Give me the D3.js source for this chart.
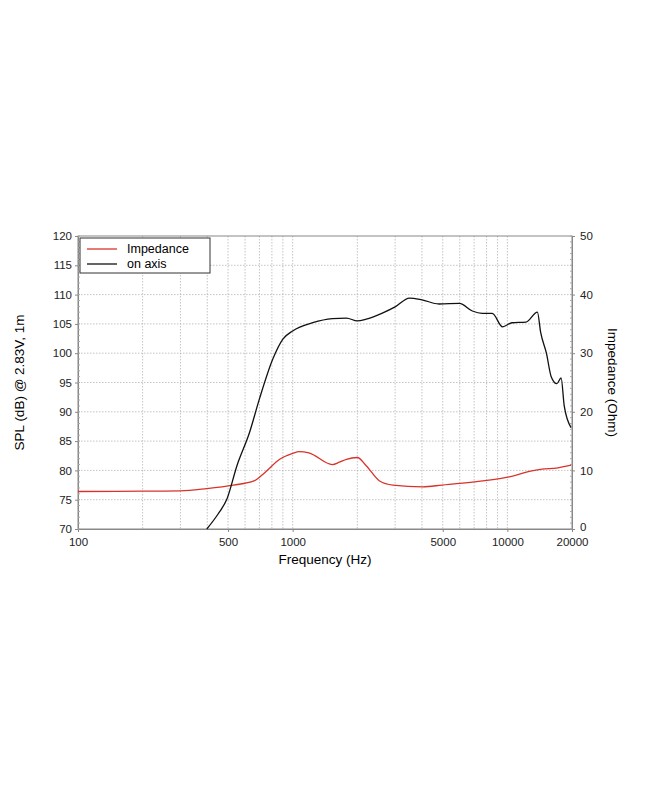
<!DOCTYPE html>
<html><head><meta charset="utf-8">
<script src="https://cdn.jsdelivr.net/npm/d3@7"></script>
<style>body{margin:0;background:#fff}text{font-family:"Liberation Sans",Arial,sans-serif}</style>
</head><body><svg id="c" width="650" height="794"></svg>
<script>
const splFreq=[398,450,494,550,630,700,808,900,1000,1240,1530,1780,2000,2200,2600,3000,3500,4000,4800,5980,6870,7630,8500,9500,10500,12200,13800,14300,15200,16000,17000,17800,18400,19800];
const splDb=[70,72.6,75.1,80.8,86.5,92.2,99,102.4,103.8,105.2,105.9,106,105.5,105.8,106.8,107.9,109.4,109.1,108.4,108.5,107.2,106.8,106.8,104.5,105.2,105.3,107,103.5,100,96,94.8,95.8,91,87.3];
const impFreq=[100,200,300,398,530,660,745,870,1000,1070,1190,1530,1650,1780,2000,2200,2540,2930,4030,4970,6870,9900,13000,14500,16900,19800];
const impOhm=[6.4,6.45,6.5,6.9,7.5,8.2,9.7,11.9,12.9,13.2,13.0,11.0,11.4,11.9,12.2,10.8,8.2,7.5,7.2,7.5,8.0,8.8,9.9,10.2,10.4,10.9];
const xTickLabels=[100,500,1000,5000,10000,20000];
const yTicks=[70,75,80,85,90,95,100,105,110,115,120];
const y2Ticks=[0,10,20,30,40,50];

const svg=d3.select("#c");
const L=78,R=572,T=236,B=529;
const x=d3.scaleLog().domain([100,20000]).range([L,R]);
const y=d3.scaleLinear().domain([70,120]).range([B,T]);
const y2=d3.scaleLinear().domain([0,50]).range([B,T]);
const grid=[];
for(let d=100;d<=10000;d*=10)for(let m=1;m<10;m++){const f=d*m;if(f>100&&f<20000)grid.push(f);}
svg.append("g").selectAll("line").data(grid).join("line")
 .attr("x1",d=>x(d)).attr("x2",d=>x(d)).attr("y1",T).attr("y2",B)
 .attr("stroke","#aaa").attr("stroke-width",0.7).attr("stroke-dasharray","1.5,1.5");
svg.append("g").selectAll("line").data(yTicks.slice(1,-1)).join("line")
 .attr("x1",L).attr("x2",R).attr("y1",d=>y(d)).attr("y2",d=>y(d))
 .attr("stroke","#aaa").attr("stroke-width",0.7).attr("stroke-dasharray","1.5,1.5");
svg.append("rect").attr("x",L).attr("y",T).attr("width",R-L).attr("height",B-T).attr("fill","none").attr("stroke","#888").attr("stroke-width",1);
const fs="11.5px";
const ax=svg.append("g").attr("transform",`translate(0,${B})`).call(d3.axisBottom(x).tickValues(xTickLabels).tickFormat(d3.format("d")).tickSize(3).tickPadding(6));
const ay=svg.append("g").attr("transform",`translate(${L},0)`).call(d3.axisLeft(y).tickValues(yTicks).tickSize(3));
const ay2=svg.append("g").attr("transform",`translate(${R},0)`).call(d3.axisRight(y2).tickValues(y2Ticks).tickSize(3).tickPadding(5));
[ax,ay,ay2].forEach(g=>{g.select(".domain").attr("stroke","#888");g.selectAll("line").attr("stroke","#888");g.selectAll("text").attr("font-size",fs).attr("fill","#222").style("font-family","Liberation Sans,Arial")});
ay2.selectAll("text").filter(d=>d===0).attr("dy","0.1em");
svg.append("g").selectAll("line").data(d3.range(70,120.1,1)).join("line").attr("x1",L).attr("x2",L+2).attr("y1",d=>y(d)).attr("y2",d=>y(d)).attr("stroke","#aaa");
svg.append("g").selectAll("line").data(d3.range(0,50.1,1)).join("line").attr("x1",R-2).attr("x2",R).attr("y1",d=>y2(d)).attr("y2",d=>y2(d)).attr("stroke","#aaa");
const line=d3.line().curve(d3.curveMonotoneX);
svg.append("path").attr("d",line(impFreq.map((f,i)=>[x(f),y2(impOhm[i])]))).attr("fill","none").attr("stroke","#d8332a").attr("stroke-width",1.3);
svg.append("path").attr("d",line(splFreq.map((f,i)=>[x(f),y(splDb[i])]))).attr("fill","none").attr("stroke","#111").attr("stroke-width",1.3);
const lg=svg.append("g");
lg.append("rect").attr("x",80).attr("y",238).attr("width",130).attr("height",35).attr("fill","#fff").attr("stroke","#333");
[["Impedance","#d8332a",249],["on axis","#111",264]].forEach(([t,c,yy])=>{
 lg.append("line").attr("x1",87).attr("x2",117).attr("y1",yy).attr("y2",yy).attr("stroke",c).attr("stroke-width",1.3);
 lg.append("text").attr("x",127).attr("y",yy+4).attr("font-size","12.5px").text(t);
});
svg.append("text").attr("x",(L+R)/2).attr("y",564).attr("text-anchor","middle").attr("font-size","13.5px").text("Frequency (Hz)");
svg.append("text").attr("transform",`translate(24,${(T+B)/2}) rotate(-90)`).attr("text-anchor","middle").attr("font-size","13.5px").text("SPL (dB) @ 2.83V, 1m");
svg.append("text").attr("transform",`translate(608,${(T+B)/2}) rotate(90)`).attr("text-anchor","middle").attr("font-size","13.5px").text("Impedance (Ohm)");
</script></body></html>
